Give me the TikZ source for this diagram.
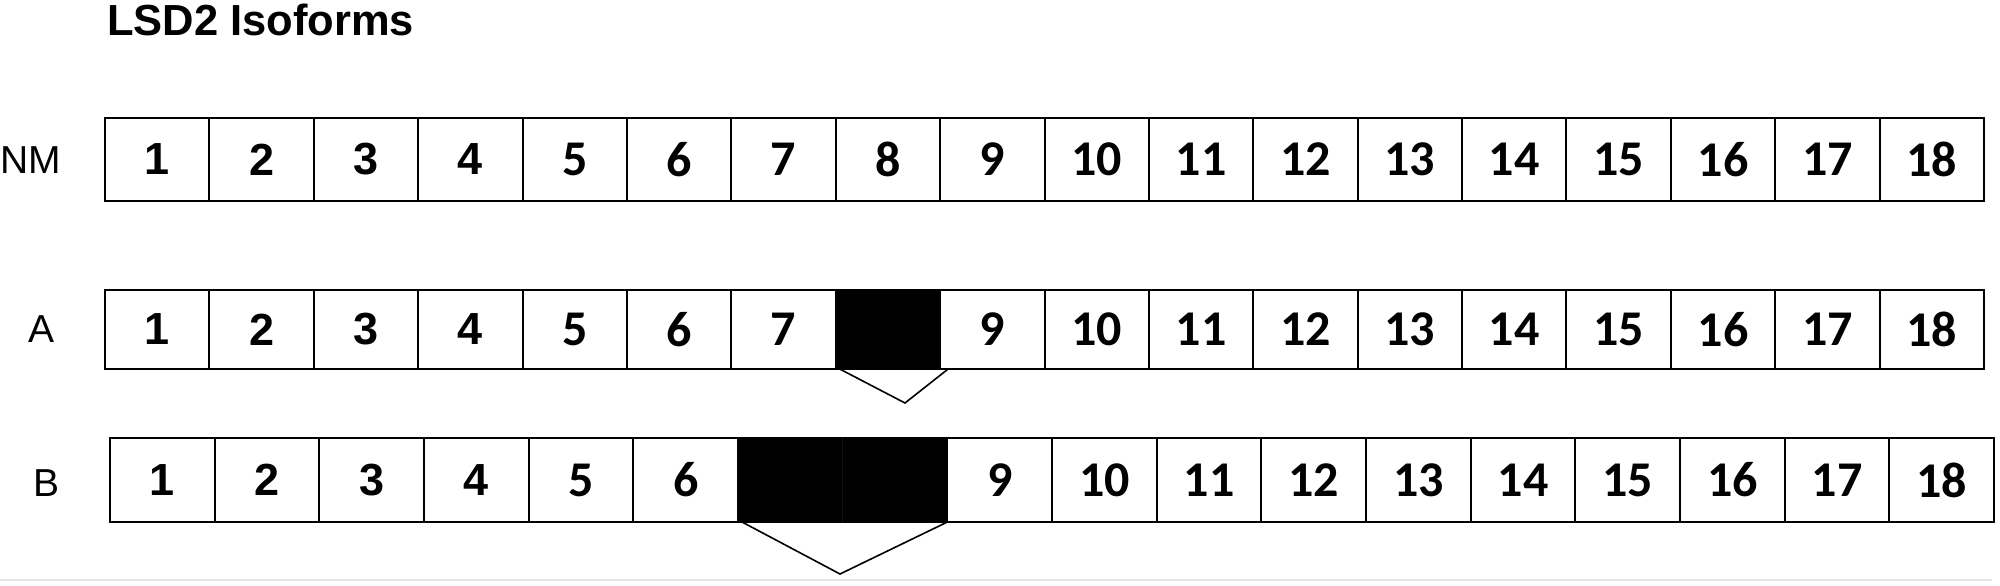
\documentclass[tikz,border=0pt]{standalone}
\usepackage{fontspec}
\setmainfont{Liberation Sans}
\newfontfamily\calfont{Carlito}
\newcommand{\numA}[1]{\raisebox{-2pt}{\fontsize{45}{47}\selectfont\bfseries #1}}
\newcommand{\numC}[1]{\raisebox{-2pt}{\calfont\fontsize{50}{52}\selectfont\bfseries #1}}
\begin{document}
\begin{tikzpicture}[x=1pt,y=-1pt,
  cell/.style={draw=black, line width=2pt, inner sep=0pt, outer sep=0pt, fill=white},
  gap/.style={cell, fill=black},
  rowlabel/.style={inner sep=0pt, font=\fontsize{39}{41}\selectfont},
  loop/.style={draw=black, line width=1.6pt, line join=miter}]
\useasboundingbox (0,0) rectangle (2000,586);
\fill[white] (0,0) rectangle (2000,586);
% title
\node[anchor=base west, inner sep=0pt, font=\fontsize{43.5}{45}\selectfont\bfseries] (title) at (107,36) {LSD2 Isoforms};
% row labels
\node[rowlabel] (lNM) at (31,160) {NM};
\node[rowlabel] (lA) at (42,329) {A};
\node[rowlabel] (lB) at (47,483) {B};
% NM row
\foreach \i in {1,...,18}{
  \pgfmathsetmacro{\cx}{105+(\i-0.5)*104.39}
  \ifnum\i<5
    \node[cell, minimum width=104.39pt, minimum height=83pt] (N\i) at (\cx,159.5) {\numA{\i}};
  \else
    \node[cell, minimum width=104.39pt, minimum height=83pt] (N\i) at (\cx,159.5) {\numC{\i}};
  \fi
}
% A row
\foreach \i in {1,...,18}{
  \pgfmathsetmacro{\cx}{105+(\i-0.5)*104.39}
  \ifnum\i=8
    \node[gap, minimum width=104.39pt, minimum height=79pt] (A\i) at (\cx,329.5) {};
  \else\ifnum\i<5
    \node[cell, minimum width=104.39pt, minimum height=79pt] (A\i) at (\cx,329.5) {\numA{\i}};
  \else
    \node[cell, minimum width=104.39pt, minimum height=79pt] (A\i) at (\cx,329.5) {\numC{\i}};
  \fi\fi
}
% B row
\foreach \i in {1,...,18}{
  \pgfmathsetmacro{\cx}{110+(\i-0.5)*104.67}
  \ifnum\i=7
    \node[gap, minimum width=104.67pt, minimum height=84pt] (B\i) at (\cx,480) {};
  \else\ifnum\i=8
    \node[gap, minimum width=104.67pt, minimum height=84pt] (B\i) at (\cx,480) {};
  \else\ifnum\i<5
    \node[cell, minimum width=104.67pt, minimum height=84pt] (B\i) at (\cx,480) {\numA{\i}};
  \else
    \node[cell, minimum width=104.67pt, minimum height=84pt] (B\i) at (\cx,480) {\numC{\i}};
  \fi\fi\fi
}
\draw[line width=0.6pt, black!92] (B7.north east) -- (B7.south east);
% splice triangles
\coordinate (a1) at ([xshift=4pt]A8.south west);
\coordinate (a2) at (905,403);
\coordinate (a3) at ([xshift=8pt]A8.south east);
\draw[loop] (a1) -- (a2) -- (a3);
\coordinate (b1) at ([xshift=4pt]B7.south west);
\coordinate (b2) at (840,574);
\coordinate (b3) at (B8.south east);
\draw[loop] (b1) -- (b2) -- (b3);
% faint bottom rule
\coordinate (r1) at (0,580);
\coordinate (r2) at (1992,580);
\draw[line width=2pt, black!10] (r1) -- (r2);
\end{tikzpicture}
\end{document}
